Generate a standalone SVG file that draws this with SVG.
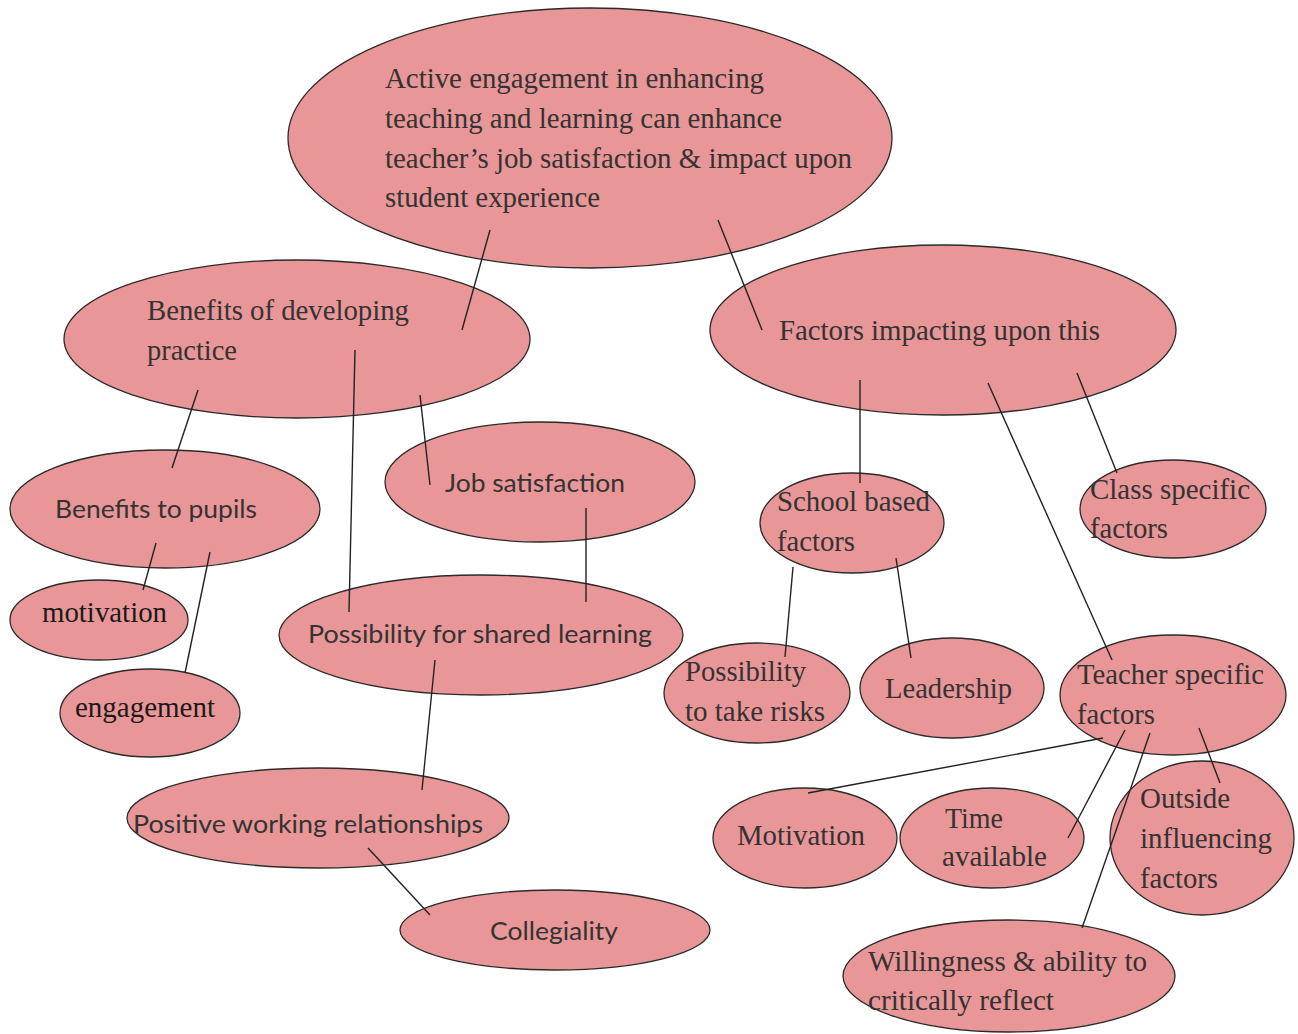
<svg xmlns="http://www.w3.org/2000/svg" width="1298" height="1034" viewBox="0 0 1298 1034">
<style>
.n{fill:#E99698;stroke:#2a2a2a;stroke-width:1.3}
.c line{stroke:#222;stroke-width:1.4}
text.s{font-family:"Times New Roman","Liberation Serif",Tinos,"DejaVu Serif",serif;font-size:29px;fill:#333}
text.a{font-family:Lato,"Open Sans","Liberation Sans",sans-serif;font-size:25px;fill:#333}
</style>
<rect width="1298" height="1034" fill="#fff"/>
<g id="main"><ellipse class="n" cx="590" cy="138" rx="302" ry="130"/>
<text class="s"><tspan x="385" y="88" textLength="379" lengthAdjust="spacingAndGlyphs">Active engagement in enhancing</tspan><tspan x="385" y="128" textLength="397" lengthAdjust="spacingAndGlyphs">teaching and learning can enhance</tspan><tspan x="385" y="168" textLength="467" lengthAdjust="spacingAndGlyphs">teacher’s job satisfaction &amp; impact upon</tspan><tspan x="385" y="207" textLength="215" lengthAdjust="spacingAndGlyphs">student experience</tspan></text></g>
<g id="benefits-dev"><ellipse class="n" cx="297" cy="339" rx="233" ry="79"/>
<text class="s"><tspan x="147" y="320" textLength="262" lengthAdjust="spacingAndGlyphs">Benefits of developing</tspan><tspan x="147" y="360" textLength="90" lengthAdjust="spacingAndGlyphs">practice</tspan></text></g>
<g id="factors"><ellipse class="n" cx="943" cy="330" rx="233" ry="85"/>
<text class="s" x="779" y="340" textLength="321" lengthAdjust="spacingAndGlyphs">Factors impacting upon this</text></g>
<g id="benefits-pupils"><ellipse class="n" cx="165" cy="509" rx="155" ry="59"/>
<text class="a" x="55" y="518" textLength="202" lengthAdjust="spacingAndGlyphs">Benefits to pupils</text></g>
<g id="job-satisfaction"><ellipse class="n" cx="540" cy="482" rx="155" ry="60"/>
<text class="a" x="445" y="492" textLength="180" lengthAdjust="spacingAndGlyphs">Job satisfaction</text></g>
<g id="motivation-pupils"><ellipse class="n" cx="99" cy="620" rx="89" ry="40"/>
<text class="s" x="42" y="622" textLength="125" lengthAdjust="spacingAndGlyphs" style="fill:#1a1a1a">motivation</text></g>
<g id="engagement"><ellipse class="n" cx="150" cy="713" rx="90" ry="44"/>
<text class="s" x="75" y="717" textLength="140" lengthAdjust="spacingAndGlyphs" style="fill:#1a1a1a">engagement</text></g>
<g id="shared-learning"><ellipse class="n" cx="481" cy="635" rx="202" ry="60"/>
<text class="a" x="308" y="643" textLength="344" lengthAdjust="spacingAndGlyphs">Possibility for shared learning</text></g>
<g id="positive-relationships"><ellipse class="n" cx="318" cy="818" rx="191" ry="50"/>
<text class="a" x="133" y="833" textLength="350" lengthAdjust="spacingAndGlyphs">Positive working relationships</text></g>
<g id="collegiality"><ellipse class="n" cx="555" cy="930" rx="155" ry="40"/>
<text class="a" x="490" y="940" textLength="128" lengthAdjust="spacingAndGlyphs">Collegiality</text></g>
<g id="school-based"><ellipse class="n" cx="852" cy="523" rx="92" ry="50"/>
<text class="s"><tspan x="777" y="511" textLength="153" lengthAdjust="spacingAndGlyphs">School based</tspan><tspan x="777" y="551" textLength="78" lengthAdjust="spacingAndGlyphs">factors</tspan></text></g>
<g id="class-specific"><ellipse class="n" cx="1173" cy="509" rx="93" ry="49"/>
<text class="s"><tspan x="1090" y="499" textLength="160" lengthAdjust="spacingAndGlyphs">Class specific</tspan><tspan x="1090" y="538" textLength="78" lengthAdjust="spacingAndGlyphs">factors</tspan></text></g>
<g id="risks"><ellipse class="n" cx="757" cy="693" rx="93" ry="50"/>
<text class="s"><tspan x="685" y="681" textLength="121" lengthAdjust="spacingAndGlyphs">Possibility</tspan><tspan x="685" y="721" textLength="140" lengthAdjust="spacingAndGlyphs">to take risks</tspan></text></g>
<g id="leadership"><ellipse class="n" cx="952" cy="688" rx="92" ry="50"/>
<text class="s" x="885" y="698" textLength="127" lengthAdjust="spacingAndGlyphs">Leadership</text></g>
<g id="teacher-specific"><ellipse class="n" cx="1173" cy="695" rx="113" ry="60"/>
<text class="s"><tspan x="1077" y="684" textLength="187" lengthAdjust="spacingAndGlyphs">Teacher specific</tspan><tspan x="1077" y="724" textLength="78" lengthAdjust="spacingAndGlyphs">factors</tspan></text></g>
<g id="motivation"><ellipse class="n" cx="805" cy="838" rx="92" ry="50"/>
<text class="s" x="737" y="845" textLength="128" lengthAdjust="spacingAndGlyphs">Motivation</text></g>
<g id="time"><ellipse class="n" cx="992" cy="838" rx="92" ry="50"/>
<text class="s"><tspan x="945" y="828" textLength="58" lengthAdjust="spacingAndGlyphs">Time</tspan><tspan x="942" y="866" textLength="105" lengthAdjust="spacingAndGlyphs">available</tspan></text></g>
<g id="outside"><ellipse class="n" cx="1202" cy="838" rx="92" ry="77"/>
<text class="s"><tspan x="1140" y="808" textLength="90" lengthAdjust="spacingAndGlyphs">Outside</tspan><tspan x="1140" y="848" textLength="132" lengthAdjust="spacingAndGlyphs">influencing</tspan><tspan x="1140" y="888" textLength="78" lengthAdjust="spacingAndGlyphs">factors</tspan></text></g>
<g id="willingness"><ellipse class="n" cx="1009" cy="976" rx="166" ry="56"/>
<text class="s"><tspan x="868" y="971" textLength="279" lengthAdjust="spacingAndGlyphs">Willingness &amp; ability to</tspan><tspan x="868" y="1010" textLength="186" lengthAdjust="spacingAndGlyphs">critically reflect</tspan></text></g>
<g id="connectors" class="c">
<line x1="490" y1="230" x2="462" y2="330"/>
<line x1="718" y1="220" x2="762" y2="330"/>
<line x1="198" y1="390" x2="172" y2="468"/>
<line x1="355" y1="350" x2="349" y2="612"/>
<line x1="420" y1="395" x2="430" y2="485"/>
<line x1="586" y1="508" x2="586" y2="602"/>
<line x1="156" y1="543" x2="143" y2="590"/>
<line x1="210" y1="552" x2="185" y2="673"/>
<line x1="435" y1="660" x2="422" y2="790"/>
<line x1="368" y1="848" x2="430" y2="915"/>
<line x1="860" y1="380" x2="860" y2="483"/>
<line x1="1077" y1="373" x2="1117" y2="473"/>
<line x1="988" y1="383" x2="1112" y2="660"/>
<line x1="793" y1="567" x2="785" y2="657"/>
<line x1="896" y1="558" x2="911" y2="658"/>
<line x1="1103" y1="738" x2="808" y2="793"/>
<line x1="1125" y1="730" x2="1068" y2="838"/>
<line x1="1150" y1="733" x2="1082" y2="928"/>
<line x1="1199" y1="728" x2="1220" y2="783"/>
</g>
</svg>
